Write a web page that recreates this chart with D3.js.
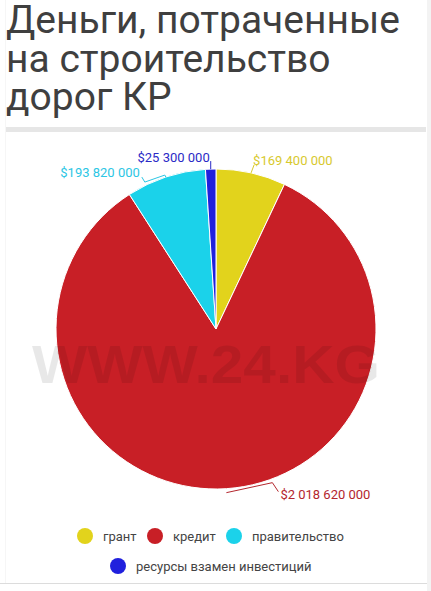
<!DOCTYPE html>
<html><head><meta charset="utf-8">
<script src="https://cdn.jsdelivr.net/npm/d3@7/dist/d3.min.js"></script>
<style>
html,body{margin:0;padding:0;background:#fff;}
svg{display:block;}
</style></head>
<body>
<svg id="c" width="431" height="591"></svg>
<script>
const titleLines = ["Деньги, потраченные", "на строительство", "дорог КР"];
const categories = ["грант", "кредит", "правительство", "ресурсы взамен инвестиций"];
const values = [169400000, 2018620000, 193820000, 25300000];
const colors = ["#e2d31c", "#c81f26", "#1bd2ea", "#2020dd"];
const labelColors = ["#d8c92e", "#b3262d", "#2cc6e4", "#2a2ac6"];
const watermark = "WWW.24.KG";

const svg = d3.select("#c");
const W = 431, H = 591;

// frame
svg.append("rect").attr("x", 427).attr("y", 0).attr("width", 4).attr("height", H).attr("fill", "#f3f3f3");
svg.append("rect").attr("x", 5).attr("y", 0).attr("width", 1).attr("height", 584).attr("fill", "#f6f6f6");

// title
const title = svg.append("text").attr("font-family", "Roboto, sans-serif").attr("font-size", 39).attr("fill", "#3f3f3f");
const baselines = [33, 72, 110];
titleLines.forEach((t, i) => {
  title.append("tspan").attr("x", 6).attr("y", baselines[i]).text(t);
});
svg.append("rect").attr("x", 6).attr("y", 127).attr("width", 420).attr("height", 5).attr("fill", "#e6e6e6");

// pie
const cx = 216, cy = 329, R = 160;
const pie = d3.pie().sort(null).value(d => d)(values);
const arc = d3.arc().innerRadius(0).outerRadius(R);
const g = svg.append("g").attr("transform", `translate(${cx},${cy})`);
g.selectAll("path").data(pie).join("path")
  .attr("d", arc)
  .attr("fill", (d, i) => colors[i])
  .attr("stroke", "#fff").attr("stroke-width", 1);

// labels
const fmt = d3.formatLocale({thousands: " ", grouping: [3], currency: ["$", ""], decimal: "."}).format("$,");
const place = [
  {pts: [[0, 0], [3, -8]], tx: 2, ty: -8, anchor: "start"},
  {pts: [[0, 4], [46, -6], [52, 3]], tx: 54, ty: 10, anchor: "start"},
  {pts: [[0, 0], [-1, -2], [-21, 5], [-24, 0]], tx: -26, ty: 0, anchor: "end"},
  {pts: [[0, 0], [0, -8]], tx: -1, ty: -7, anchor: "end"}
];
pie.forEach((d, i) => {
  const a = (d.startAngle + d.endAngle) / 2;
  const px = Math.sin(a) * R, py = -Math.cos(a) * R;
  const p = place[i];
  g.append("polyline")
    .attr("points", p.pts.map(q => [px + q[0], py + q[1]].join(",")).join(" "))
    .attr("fill", "none").attr("stroke", labelColors[i]).attr("stroke-width", 1);
  g.append("text")
    .attr("x", px + p.tx).attr("y", py + p.ty)
    .attr("text-anchor", p.anchor)
    .attr("font-family", "Roboto, sans-serif").attr("font-size", 13)
    .attr("fill", labelColors[i])
    .text(fmt(values[i]));
});

// watermark
svg.append("text").attr("x", 32).attr("y", 383)
  .attr("textLength", 348).attr("lengthAdjust", "spacingAndGlyphs")
  .attr("font-family", "Liberation Sans, Arial, sans-serif").attr("font-weight", "bold")
  .attr("font-size", 53).attr("fill", "rgba(0,0,0,0.09)")
  .text(watermark);

// legend
const legendPos = [[85, 536], [155, 536], [234, 536], [118, 566]];
const lg = svg.append("g");
categories.forEach((c, i) => {
  const [x, y] = legendPos[i];
  lg.append("circle").attr("cx", x).attr("cy", y).attr("r", 8).attr("fill", colors[i]);
  lg.append("text").attr("x", x + 18).attr("y", y).attr("dy", "0.35em")
    .attr("font-family", "Roboto, sans-serif").attr("font-size", 13).attr("fill", "#444")
    .text(c);
});
svg.append("rect").attr("x", 0).attr("y", 583).attr("width", 427).attr("height", 1).attr("fill", "#dcdcdc");
</script>
</body></html>
